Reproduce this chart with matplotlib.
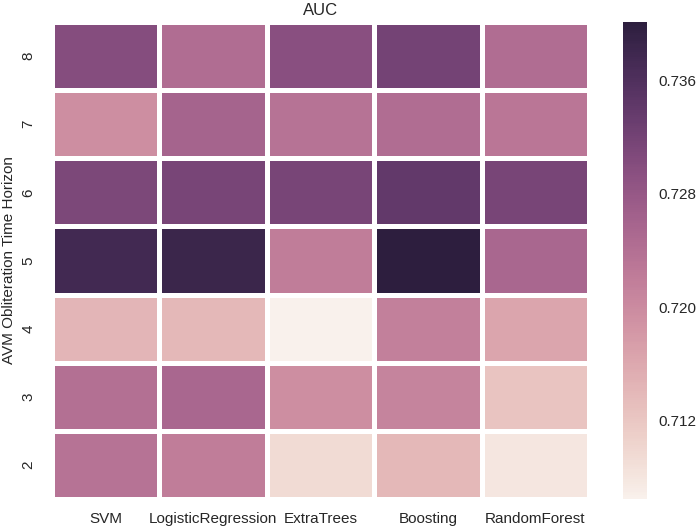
import matplotlib
matplotlib.use("Agg")
import matplotlib.pyplot as plt
import numpy as np
import seaborn as sns

# ======== AUC HEATMAP ========

models = ["SVM", "LogisticRegression", "ExtraTrees", "Boosting", "RandomForest"]
horizons = ["8", "7", "6", "5", "4", "3", "2"]

auc_svm = [0.7300, 0.7195, 0.7310, 0.7375, 0.7145, 0.7240, 0.7235]
auc_logreg = [0.7245, 0.7260, 0.7315, 0.7385, 0.7140, 0.7255, 0.7220]
auc_extratrees = [0.7295, 0.7235, 0.7315, 0.7220, 0.7065, 0.7195, 0.7095]
auc_boosting = [0.7320, 0.7245, 0.7340, 0.7401, 0.7215, 0.7210, 0.7140]
auc_randomforest = [0.7245, 0.7230, 0.7315, 0.7255, 0.7165, 0.7125, 0.7080]

data = np.array([auc_svm, auc_logreg, auc_extratrees, auc_boosting, auc_randomforest]).T

sns.set_style("white")
plt.rcParams["font.family"] = ["Liberation Sans", "DejaVu Sans"]

fig = plt.figure(figsize=(6.97, 5.28), dpi=100)
ax = fig.add_axes([0.0746, 0.0549, 0.7705, 0.9034])
cax = fig.add_axes([0.894, 0.0549, 0.0344, 0.9034])

cmap = sns.cubehelix_palette(light=.95, as_cmap=True)
sns.heatmap(data, ax=ax, cbar_ax=cax, cmap=cmap, linewidths=3.5, linecolor="white",
            xticklabels=models, yticklabels=horizons)

ax.set_title("AUC", fontsize=12, color="#262626", pad=5)
ax.set_ylabel("AVM Obliteration Time Horizon", fontsize=11, color="#262626")
ax.tick_params(axis="x", length=0, labelsize=11, labelcolor="#262626", pad=9)
ax.tick_params(axis="y", length=0, labelsize=11, labelcolor="#262626", pad=12)
plt.setp(ax.get_yticklabels(), rotation=90, va="center")
plt.setp(ax.get_xticklabels(), rotation=0)

cax.set_yticks([0.712, 0.720, 0.728, 0.736])
cax.set_yticklabels(["0.712", "0.720", "0.728", "0.736"])
cax.tick_params(length=0, labelsize=11, labelcolor="#262626", pad=8)
for s in cax.spines.values():
    s.set_visible(False)

plt.savefig("out.png", dpi=100)
